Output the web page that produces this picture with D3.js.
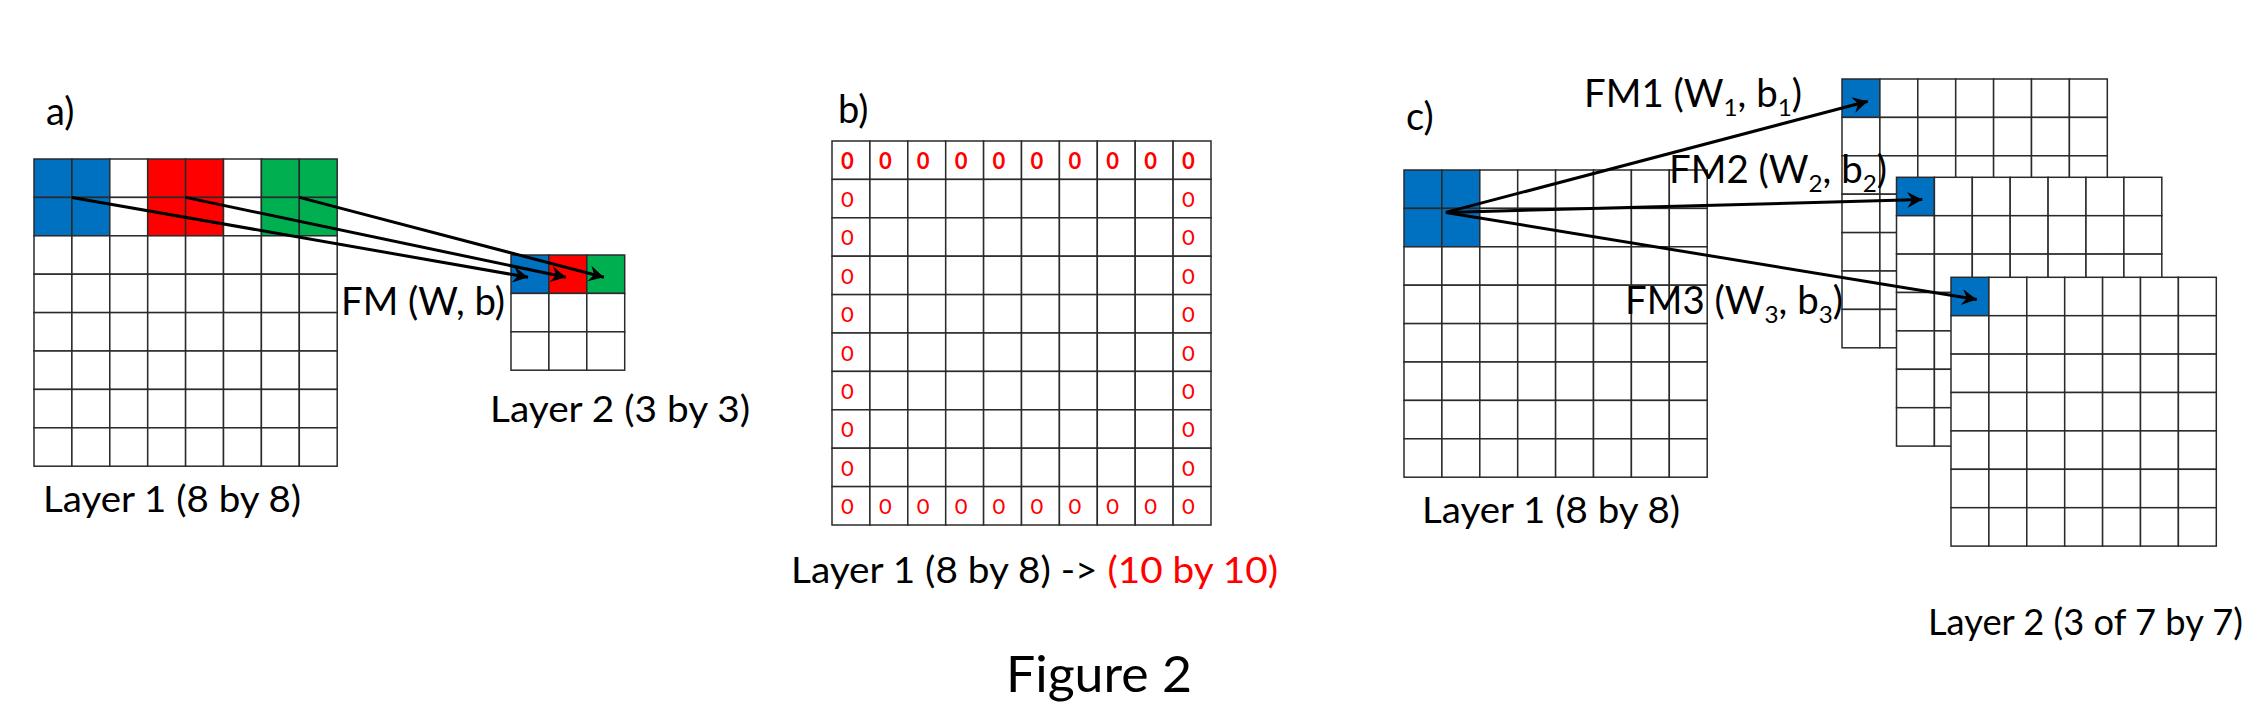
<!DOCTYPE html>
<html><head><meta charset="utf-8">
<script src="https://cdn.jsdelivr.net/npm/d3@7"></script>
<style>body{margin:0;background:#fff}svg{display:block}text{font-family:Lato,"Open Sans",sans-serif;fill:#000}</style>
</head><body>
<script>
// ---- data ----
const panelLabels = ["a)", "b)", "c)"];
const layer1Size = 8, layer2aSize = 3, paddedSize = 10, fmSize = 7;
const windowColors = ["#0070C0", "#FF0000", "#00B050"];
const windowCols = [[0,1],[3,4],[6,7]];      // 2x2 windows in top rows 0-1
const layer2aColors = ["#0070C0", "#FF0000", "#00B050"]; // first row of layer 2
const fmNames = ["FM1", "FM2", "FM3"];
const fmSubs = ["1", "2", "3"];
const paddingValue = "0";
const captions = {a1:"Layer 1 (8 by 8)", a2:"Layer 2 (3 by 3)", b:"Layer 1 (8 by 8) -> ", bRed:"(10 by 10)", c1:"Layer 1 (8 by 8)", c2:"Layer 2 (3 of 7 by 7)", fm:"FM (W, b)", fig:"Figure 2"};

const W = 2268, H = 720;
const svg = d3.select("body").append("svg").attr("width", W).attr("height", H);
const defs = svg.append("defs");
defs.append("marker").attr("id","ah").attr("markerUnits","userSpaceOnUse")
  .attr("viewBox","-16 -9 18 18").attr("markerWidth",18).attr("markerHeight",18)
  .attr("refX",0).attr("refY",0).attr("orient","auto")
  .append("path").attr("d","M-15,-8 L0,0 L-15,8 L-10,0 Z").attr("fill","#000");

const CW = 37.9, CH = 38.4;
function grid(x0, y0, n, fills) {
  const g = svg.append("g");
  const xs = d3.scaleLinear().domain([0, n]).range([x0, x0 + n * CW]);
  const ys = d3.scaleLinear().domain([0, n]).range([y0, y0 + n * CH]);
  const cells = [];
  for (let r = 0; r < n; r++) for (let c = 0; c < n; c++) cells.push({r, c});
  g.selectAll("rect").data(cells).join("rect")
    .attr("x", d => xs(d.c)).attr("y", d => ys(d.r))
    .attr("width", CW).attr("height", CH)
    .attr("fill", d => (fills && fills(d)) || "#fff")
    .attr("stroke", "#2a2a2a").attr("stroke-width", 1.5);
  return {g, xs, ys};
}
function label(x, y, txt, size, len, color) {
  const t = svg.append("text").attr("x", x).attr("y", y).attr("font-size", size).text(txt);
  if (len) t.attr("textLength", len).attr("lengthAdjust", "spacingAndGlyphs");
  if (color) t.style("fill", color);
  return t;
}
function arrow(x1, y1, x2, y2) {
  svg.append("line").attr("x1", x1).attr("y1", y1).attr("x2", x2).attr("y2", y2)
    .attr("stroke", "#000").attr("stroke-width", 3).attr("marker-end", "url(#ah)");
}

// ---- panel a ----
label(46, 125, panelLabels[0], 38);
const A1 = grid(34, 159, layer1Size, d => {
  if (d.r > 1) return null;
  const i = windowCols.findIndex(w => w.includes(d.c));
  return i >= 0 ? windowColors[i] : null;
});
const A2 = grid(511, 255, layer2aSize, d => d.r === 0 ? layer2aColors[d.c] : null);
windowCols.forEach((w, i) => {
  arrow(A1.xs(w[1]), A1.ys(1), A2.xs(i) + CW * 0.45, A2.ys(0) + CH * 0.58);
});
label(341, 315, captions.fm, 38, 164);
label(490, 422, captions.a2, 37, 260);
label(43, 512, captions.a1, 37, 258);

// ---- panel b ----
label(838, 123, panelLabels[1], 38);
const B = grid(832, 141, paddedSize);
const zeros = [];
for (let r = 0; r < paddedSize; r++) for (let c = 0; c < paddedSize; c++)
  if (r === 0 || c === 0 || r === paddedSize - 1 || c === paddedSize - 1) zeros.push({r, c});
B.g.selectAll("text.z").data(zeros).join("text").attr("class","z")
  .attr("x", d => B.xs(d.c) + 9).attr("y", d => B.ys(d.r) + 27.5)
  .attr("font-size", 22).attr("font-weight", d => d.r === 0 ? "bold" : "normal")
  .style("fill", "#FF0000").text(paddingValue);
const bt = svg.append("text").attr("x", 791).attr("y", 583).attr("font-size", 37)
  .attr("textLength", 487).attr("lengthAdjust", "spacingAndGlyphs");
bt.append("tspan").text(captions.b);
bt.append("tspan").style("fill", "#FF0000").text(captions.bRed);

// ---- panel c ----
label(1406, 130, panelLabels[2], 38);
const C1 = grid(1404, 170, layer1Size, d => (d.r < 2 && d.c < 2) ? "#0070C0" : null);
const fmPos = [[1842, 79], [1896.5, 177.3], [1951, 277.3]];
const FMs = fmPos.map(p => grid(p[0], p[1], fmSize, d => (d.r === 0 && d.c === 0) ? "#0070C0" : null));
const ox = C1.xs(1) + 4, oy = C1.ys(1) + 4;
FMs.forEach(f => arrow(ox, oy, f.xs(0) + CW * 0.68, f.ys(0) + CH * 0.58));
const fmText = [[1584, 107], [1669, 183], [1625, 314]];
fmNames.forEach((n, i) => {
  const t = svg.append("text").attr("x", fmText[i][0]).attr("y", fmText[i][1]).attr("font-size", 38)
    .attr("textLength", 218).attr("lengthAdjust", "spacingAndGlyphs");
  t.append("tspan").text(n + " (W");
  t.append("tspan").attr("font-size", 24).attr("dy", 9).text(fmSubs[i]);
  t.append("tspan").attr("dy", -9).text(", b");
  t.append("tspan").attr("font-size", 24).attr("dy", 9).text(fmSubs[i]);
  t.append("tspan").attr("dy", -9).text(")");
});
label(1422, 523, captions.c1, 37, 258);
label(1928, 635, captions.c2, 37, 315);

label(1006, 692, captions.fig, 50, 186);
</script>
</body></html>
